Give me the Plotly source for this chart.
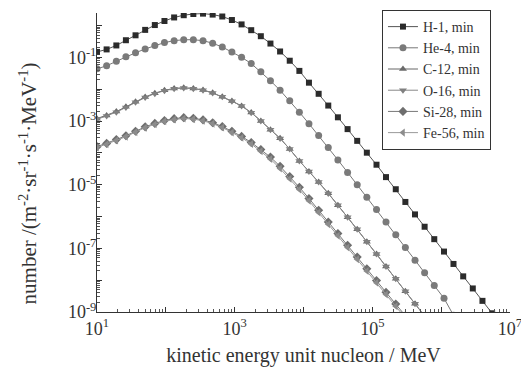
import plotly.graph_objects as go

energy = [10, 13.8, 19.1, 26.3, 36.3, 50.1, 69.2, 95.5, 132, 182, 251, 347, 479, 661, 912,
          1260, 1740, 2400, 3310, 4570, 6310, 8710, 1.20e4, 1.66e4, 2.29e4, 3.16e4, 4.37e4,
          6.03e4, 8.32e4, 1.15e5, 1.58e5, 2.19e5, 3.02e5, 4.17e5, 5.75e5, 7.94e5, 1.10e6,
          1.51e6, 2.09e6, 2.88e6, 3.98e6, 5.50e6]

h1 = [1.5e-1, 1.8e-1, 2.4e-1, 3.5e-1, 5.0e-1, 7.4e-1, 1.05, 1.41, 1.82, 2.14, 2.34, 2.40, 2.24,
      1.95, 1.51, 1.10, 7.24e-1, 4.68e-1, 2.75e-1, 1.55e-1, 7.94e-2, 3.80e-2, 1.62e-2, 7.24e-3,
      3.09e-3, 1.32e-3, 5.62e-4, 2.40e-4, 1.02e-4, 4.27e-5, 1.74e-5, 7.24e-6, 2.88e-6, 1.17e-6,
      4.79e-7, 1.95e-7, 7.94e-8, 3.24e-8, 1.32e-8, 5.50e-9, 2.24e-9, 9.1e-10]

he4 = [4.4e-2, 5.5e-2, 7.6e-2, 1.05e-1, 1.41e-1, 1.86e-1, 2.40e-1, 2.95e-1, 3.39e-1, 3.63e-1,
       3.63e-1, 3.39e-1, 2.82e-1, 2.14e-1, 1.48e-1, 1.02e-1, 6.46e-2, 3.55e-2, 1.86e-2, 9.33e-3,
       4.37e-3, 1.91e-3, 8.32e-4, 3.55e-4, 1.48e-4, 6.03e-5, 2.45e-5, 1.00e-5, 4.07e-6, 1.66e-6,
       6.76e-7, 2.69e-7, 1.07e-7, 4.27e-8, 1.70e-8, 6.76e-9, 2.69e-9, 7.9e-10]

c12 = [1.20e-3, 1.51e-3, 2.00e-3, 2.82e-3, 4.07e-3, 5.75e-3, 7.59e-3, 9.33e-3, 1.07e-2, 1.12e-2,
       1.07e-2, 9.55e-3, 7.76e-3, 5.89e-3, 4.27e-3, 3.02e-3, 1.86e-3, 1.02e-3, 5.37e-4, 2.88e-4,
       1.32e-4, 5.62e-5, 2.63e-5, 1.23e-5, 5.37e-6, 2.29e-6, 9.55e-7, 3.98e-7, 1.62e-7, 6.61e-8,
       2.69e-8, 1.10e-8, 4.47e-9, 1.82e-9, 7.41e-10]

o16 = [1.14e-3, 1.44e-3, 1.91e-3, 2.70e-3, 3.90e-3, 5.52e-3, 7.33e-3, 9.06e-3, 1.04e-2, 1.10e-2,
       1.05e-2, 9.40e-3, 7.66e-3, 5.83e-3, 4.23e-3, 3.00e-3, 1.85e-3, 1.02e-3, 5.35e-4, 2.87e-4,
       1.32e-4, 5.60e-5, 2.62e-5, 1.23e-5, 5.36e-6, 2.29e-6, 9.55e-7, 3.98e-7, 1.62e-7, 6.61e-8,
       2.69e-8, 1.10e-8, 4.47e-9, 1.82e-9, 7.41e-10]

si28 = [1.58e-4, 2.00e-4, 2.63e-4, 3.47e-4, 4.79e-4, 6.61e-4, 8.51e-4, 1.05e-3, 1.20e-3, 1.29e-3,
        1.23e-3, 1.10e-3, 8.91e-4, 6.76e-4, 4.79e-4, 3.31e-4, 2.14e-4, 1.29e-4, 7.41e-5, 3.80e-5,
        1.82e-5, 8.32e-6, 3.72e-6, 1.58e-6, 6.76e-7, 2.95e-7, 1.26e-7, 5.37e-8, 2.29e-8, 9.77e-9,
        4.17e-9, 1.78e-9, 7.59e-10]

fe56 = [1.48e-4, 1.88e-4, 2.48e-4, 3.27e-4, 4.52e-4, 6.24e-4, 8.03e-4, 9.90e-4, 1.13e-3, 1.21e-3,
        1.16e-3, 1.03e-3, 8.37e-4, 6.31e-4, 4.42e-4, 3.02e-4, 1.92e-4, 1.14e-4, 6.46e-5, 3.24e-5,
        1.55e-5, 7.08e-6, 3.16e-6, 1.35e-6, 5.75e-7, 2.51e-7, 1.07e-7, 4.57e-8, 1.95e-8, 8.32e-9,
        3.55e-9, 1.51e-9, 6.46e-10]

series_names = ["H-1, min", "He-4, min", "C-12, min", "O-16, min", "Si-28, min", "Fe-56, min"]
series_values = [h1, he4, c12, o16, si28, fe56]
symbols = ["square", "circle", "triangle-up", "triangle-down", "diamond", "triangle-left"]
marker_colors = ["#2b2b2b", "#7a7a7a", "#6a6a6a", "#808080", "#6e6e6e", "#8c8c8c"]
line_colors = ["#555555", "#777777", "#666666", "#888888", "#777777", "#999999"]
sizes = [6, 7, 7, 7, 7, 7]

x_tick_vals = [1e1, 1e2, 1e3, 1e4, 1e5, 1e6, 1e7]
x_tick_text = ["10<sup>1</sup>", "", "10<sup>3</sup>", "", "10<sup>5</sup>", "", "10<sup>7</sup>"]
y_tick_vals = [1e-9, 1e-8, 1e-7, 1e-6, 1e-5, 1e-4, 1e-3, 1e-2, 1e-1, 1e0]
y_tick_text = ["10<sup>-9</sup>", "", "10<sup>-7</sup>", "", "10<sup>-5</sup>", "",
               "10<sup>-3</sup>", "", "10<sup>-1</sup>", ""]
y_title = "number /(m<sup>-2</sup>·sr<sup>-1</sup>·s<sup>-1</sup>·MeV<sup>-1</sup>)"
x_title = "kinetic energy unit nucleon / MeV"

fig = go.Figure()
for name, vals, sym, mc, lc, sz in zip(series_names, series_values, symbols,
                                        marker_colors, line_colors, sizes):
    fig.add_trace(go.Scatter(
        x=energy[:len(vals)], y=vals, name=name, mode="lines+markers",
        line=dict(color=lc, width=1),
        marker=dict(symbol=sym, size=sz, color=mc, line=dict(width=0)),
        cliponaxis=True,
    ))

x_minor = [m * 10 ** k for k in range(1, 7) for m in range(2, 10)]
y_minor = [m * 10.0 ** k for k in range(-9, 0) for m in range(2, 10)]

font_family = "Liberation Serif, Times New Roman, serif"
fig.update_layout(
    width=521, height=376,
    margin=dict(l=97, r=11, t=13, b=64, autoexpand=False),
    paper_bgcolor="white", plot_bgcolor="white",
    font=dict(family=font_family, size=18, color="#333333"),
    showlegend=True,
    legend=dict(x=0.69, y=1.01, xanchor="left", yanchor="top",
                bgcolor="white", bordercolor="#333333", borderwidth=1,
                font=dict(family=font_family, size=14, color="#333333"),
                itemwidth=30, tracegroupgap=0),
    annotations=[dict(text=y_title, textangle=-90, xref="paper", yref="paper",
                      x=-0.167, y=0.43, xanchor="center", yanchor="middle",
                      showarrow=False, font=dict(family=font_family, size=21,
                                                 color="#333333"))],
)
fig.update_xaxes(
    type="log", range=[1, 7], showline=True, linecolor="#333333", linewidth=1,
    showgrid=False, zeroline=False, ticks="inside", ticklen=5, tickcolor="#333333",
    tickmode="array", tickvals=x_tick_vals, ticktext=x_tick_text,
    tickfont=dict(size=18), ticklabeloverflow="allow", automargin=False,
    minor=dict(ticks="inside", ticklen=3, tickcolor="#555555", tickmode="array",
               tickvals=x_minor, showgrid=False),
    title=dict(text=x_title, standoff=10, font=dict(size=20)),
)
fig.update_yaxes(
    type="log", range=[-9, 0.4], showline=True, linecolor="#333333", linewidth=1,
    showgrid=False, zeroline=False, ticks="inside", ticklen=5, tickcolor="#333333",
    tickmode="array", tickvals=y_tick_vals, ticktext=y_tick_text,
    tickfont=dict(size=18), ticklabelstandoff=-4, ticklabeloverflow="allow",
    automargin=False,
    minor=dict(ticks="inside", ticklen=3, tickcolor="#555555", tickmode="array",
               tickvals=y_minor, showgrid=False),
)

fig.write_html("out.html")
